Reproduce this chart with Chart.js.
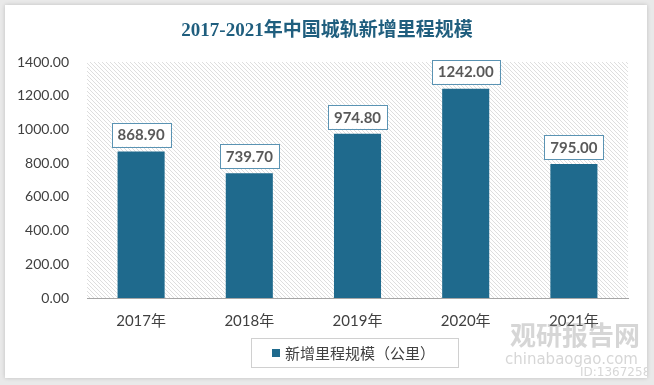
<!DOCTYPE html>
<html>
<head>
<meta charset="utf-8">
<script src="https://cdn.jsdelivr.net/npm/chart.js@4.4.0/dist/chart.umd.min.js"></script>
<style>
  html, body { margin: 0; padding: 0; background: #e9e9e9; }
  #card {
    position: absolute; left: 5px; top: 5px; width: 642px; height: 373px;
    background: #ffffff; box-shadow: 0 0 4px rgba(0,0,0,0.18);
  }
  canvas { display: block; }
</style>
</head>
<body>
<div id="card"><canvas id="chart" width="642" height="373"></canvas></div>
<script>
const years = ["2017年", "2018年", "2019年", "2020年", "2021年"];
const mileage = [868.9, 739.7, 974.8, 1242.0, 795.0];
const seriesName = "新增里程规模（公里）";
const chartTitle = "2017-2021年中国城轨新增里程规模";

const barColor = "#1f6a8d";

function makeHatch() {
  let c = document.createElement("canvas");
  c.width = 4; c.height = 4;
  let g = c.getContext("2d");
  g.fillStyle = "#ffffff";
  g.fillRect(0, 0, 4, 4);
  g.strokeStyle = "#dedede";
  g.lineWidth = 1;
  g.beginPath();
  g.moveTo(0, 0); g.lineTo(4, 4);
  g.moveTo(-2, 2); g.lineTo(2, 6);
  g.moveTo(2, -2); g.lineTo(6, 2);
  g.stroke();
  return c;
}

// hatched plot background + title
const backdrop = {
  id: "backdrop",
  beforeDraw(chart) {
    const ctx = chart.ctx, a = chart.chartArea;
    ctx.save();
    ctx.fillStyle = ctx.createPattern(makeHatch(), "repeat");
    ctx.fillRect(a.left, a.top, a.right - a.left, a.bottom - a.top);
    ctx.fillStyle = "#1f5e7e";
    ctx.font = "bold 19px 'Liberation Serif', 'Noto Sans CJK SC', serif";
    ctx.textAlign = "center";
    ctx.textBaseline = "middle";
    ctx.fillText(chartTitle, 322, 26);
    ctx.restore();
  }
};

// boxed value labels + legend box + watermark
const labels = {
  id: "labels",
  afterDatasetsDraw(chart) {
    const ctx = chart.ctx;
    const meta = chart.getDatasetMeta(0);
    ctx.save();
    ctx.font = "bold 15px Lato, 'Open Sans', sans-serif";
    ctx.textAlign = "center";
    ctx.textBaseline = "middle";
    meta.data.forEach((bar, i) => {
      const txt = mileage[i].toFixed(2);
      const w = ctx.measureText(txt).width + 12;
      const h = 24;
      const x = bar.x - w / 2, y = bar.y - 5 - h;
      ctx.fillStyle = "#ffffff";
      ctx.fillRect(x, y, w, h);
      ctx.strokeStyle = "#5a93b3";
      ctx.lineWidth = 1;
      ctx.strokeRect(Math.round(x) + 0.5, Math.round(y) + 0.5, Math.round(w), h);
      ctx.fillStyle = "#595959";
      ctx.fillText(txt, bar.x, y + h / 2 + 1);
    });

    // legend
    ctx.strokeStyle = "#d0d0d0";
    ctx.strokeRect(246.5, 333.5, 207, 29);
    ctx.fillStyle = barColor;
    ctx.fillRect(267, 344, 8, 8);
    ctx.fillStyle = "#404040";
    ctx.font = "15px 'Noto Sans CJK SC', sans-serif";
    ctx.textAlign = "left";
    ctx.fillText(seriesName, 280, 348);

    // watermark
    ctx.globalAlpha = 0.35;
    ctx.fillStyle = "#8a8a8a";
    ctx.font = "bold 26px 'Noto Sans CJK SC', sans-serif";
    ctx.fillText("观研报告网", 505, 330);
    ctx.font = "15px 'DejaVu Sans', sans-serif";
    ctx.fillText("chinabaogao.com", 500, 355);
    ctx.font = "12px 'DejaVu Sans', sans-serif";
    ctx.fillText("ID:13672581", 575, 368);
    ctx.restore();
  }
};

new Chart(document.getElementById("chart"), {
  type: "bar",
  data: {
    labels: years,
    datasets: [{
      label: seriesName,
      data: mileage,
      backgroundColor: barColor,
      borderWidth: 0,
      categoryPercentage: 0.87,
      barPercentage: 0.5
    }]
  },
  options: {
    responsive: false,
    animation: false,
    layout: { padding: { left: 0, right: 19, top: 57, bottom: 0 } },
    plugins: {
      legend: { display: false },
      tooltip: { enabled: false },
      title: { display: false }
    },
    scales: {
      x: {
        grid: { display: false, drawTicks: false },
        border: { color: "#a6a6a6", width: 1 },
        ticks: {
          color: "#404040",
          padding: 14,
          font: { family: "Lato, 'Noto Sans CJK SC', sans-serif", size: 15 }
        },
        afterFit(scale) { scale.height = 80; }
      },
      y: {
        min: 0,
        max: 1400,
        grid: { display: false, drawTicks: false },
        border: { display: false },
        ticks: {
          stepSize: 200,
          color: "#404040",
          padding: 18,
          font: { family: "Lato, sans-serif", size: 14 },
          callback: v => v.toFixed(2)
        },
        afterFit(scale) { scale.width = 82; }
      }
    }
  },
  plugins: [backdrop, labels]
});
</script>
</body>
</html>
